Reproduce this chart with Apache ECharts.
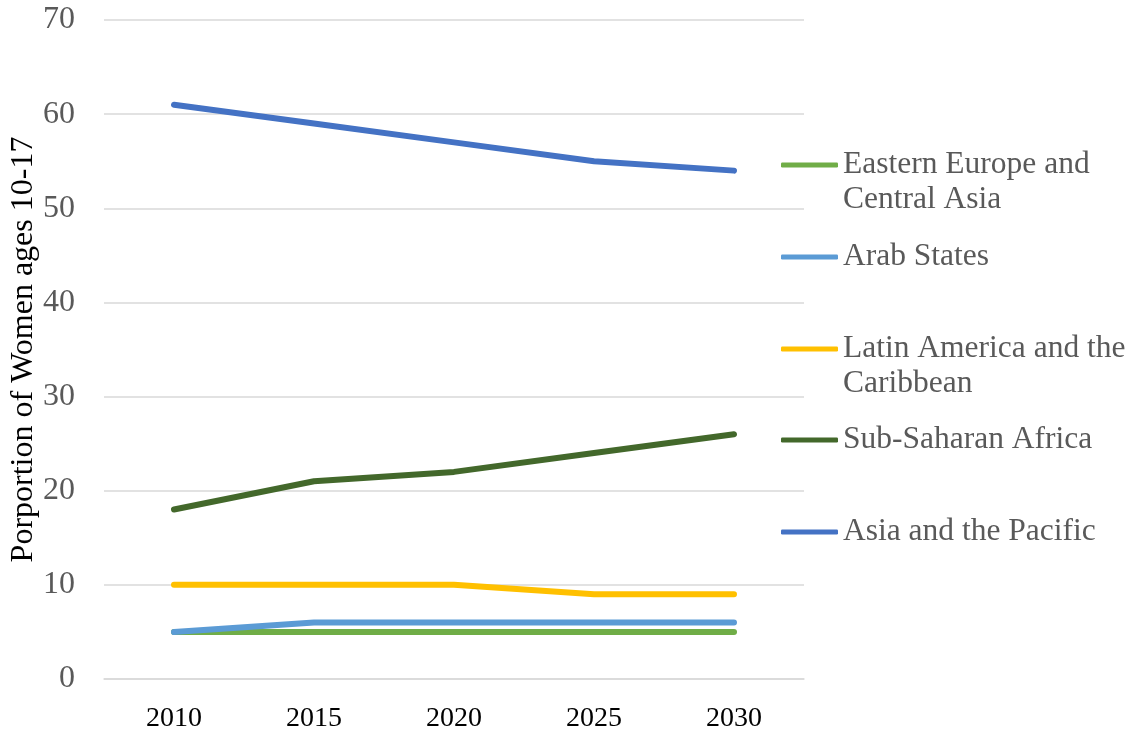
<!DOCTYPE html>
<html>
<head>
<meta charset="utf-8">
<script src="https://cdn.jsdelivr.net/npm/echarts@6/dist/echarts.min.js"></script>
<style>
  html, body { margin: 0; padding: 0; background: #fff; }
  #chart { width: 1133px; height: 734px; }
</style>
</head>
<body>
<div id="chart"></div>
<script>
// data
const years = ['2010', '2015', '2020', '2025', '2030'];
const easternEurope = [5, 5, 5, 5, 5];
const arabStates = [5, 6, 6, 6, 6];
const latinAmerica = [10, 10, 10, 9, 9];
const subSaharan = [18, 21, 22, 24, 26];
const asiaPacific = [61, 59, 57, 55, 54];

const seriesNames = ['Eastern Europe and Central Asia', 'Arab States', 'Latin America and the Caribbean', 'Sub-Saharan Africa', 'Asia and the Pacific'];
// leading blank line keeps the icon level with the first text line
const legendLabels = ['\nEastern Europe and\nCentral Asia', 'Arab States', '\nLatin America and the\nCaribbean', 'Sub-Saharan Africa', 'Asia and the Pacific'];
const colors = ['#70AD47', '#5B9BD5', '#FFC000', '#43682B', '#4472C4'];
const allValues = [easternEurope, arabStates, latinAmerica, subSaharan, asiaPacific];

const FONT = '"Liberation Serif", "Times New Roman", serif';
const chart = echarts.init(document.getElementById('chart'));

const iconCenters = [165, 257, 349, 440, 532];
const legends = seriesNames.map((name, i) => {
    const twoLines = legendLabels[i].indexOf('\n') >= 0;
    return {
        data: [name],
        orient: 'vertical',
        left: 781,
        top: twoLines ? iconCenters[i] - 52.5 : iconCenters[i] - 17.5,
        padding: 0,
        itemWidth: 57,
        itemHeight: 5,
        icon: 'roundRect',
        selectedMode: false,
        formatter: () => legendLabels[i],
        textStyle: { fontFamily: FONT, fontSize: 31.5, color: '#595959', lineHeight: 35 }
    };
});

chart.setOption({
    animation: false,
    color: colors,
    grid: { left: 104, right: 329, top: 20, bottom: 55, outerBoundsMode: 'none', containLabel: false },
    legend: legends,
    xAxis: {
        type: 'category', data: years, boundaryGap: true,
        axisLine: { lineStyle: { color: '#D9D9D9', width: 1.5 } },
        axisTick: { show: false },
        axisLabel: { fontFamily: FONT, fontSize: 28, color: '#000', margin: 26 }
    },
    yAxis: {
        type: 'value', min: 0, max: 70, interval: 10,
        name: 'Porportion of Women ages 10-17', nameLocation: 'middle', nameGap: 64,
        nameMoveOverlap: false,
        nameTextStyle: { fontFamily: FONT, fontSize: 32, color: '#000' },
        axisLine: { show: false }, axisTick: { show: false },
        axisLabel: { fontFamily: FONT, fontSize: 32, color: '#595959', margin: 29 },
        splitLine: { lineStyle: { color: '#D9D9D9', width: 1.5 } }
    },
    series: seriesNames.map((name, i) => ({
        name: name, type: 'line', data: allValues[i],
        symbol: 'none',
        lineStyle: { width: 6, color: colors[i], cap: 'round', join: 'round' },
        itemStyle: { color: colors[i] }
    }))
});
</script>
</body>
</html>
